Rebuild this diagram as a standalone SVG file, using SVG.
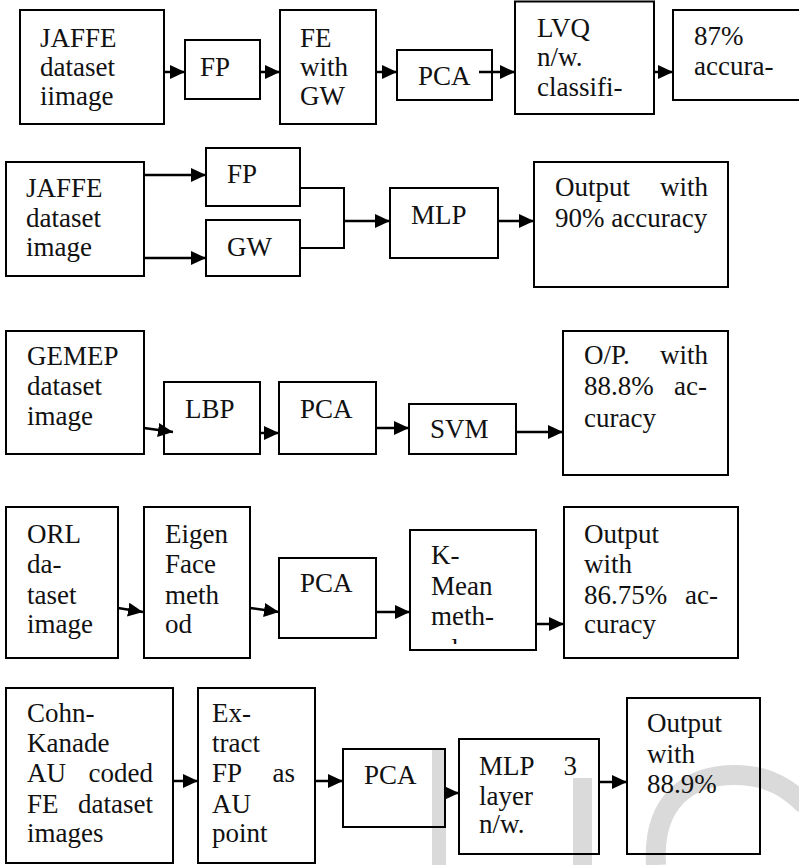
<svg xmlns="http://www.w3.org/2000/svg" width="799" height="865" viewBox="0 0 799 865" font-family="Liberation Serif, Times New Roman, Tinos, DejaVu Serif, Noto Serif, serif">
<style>
.box{fill:none;stroke:#000;stroke-width:2}
.t{font-size:27px;fill:#111}
.e{text-anchor:end}
.c{fill:none;stroke:#000;stroke-width:2.5}
.wm{fill:#dadada;stroke:none}
</style>
<defs>
<marker id="ah" markerUnits="userSpaceOnUse" markerWidth="15" markerHeight="14" refX="15" refY="7" orient="auto">
<path d="M0,0 L15,7 L0,14 z" fill="#000"/>
</marker>
<clipPath id="kclip"><rect x="410" y="530" width="126" height="114"/></clipPath>
</defs>
<rect width="799" height="865" fill="#fff"/>
<g id="watermark">
<rect class="wm" x="432" y="750" width="14" height="115"/>
<rect class="wm" x="573" y="778" width="19" height="87"/>
<path d="M656 865 C652 800 690 775 735 775 C770 775 790 790 805 805" fill="none" stroke="#dadada" stroke-width="20"/>
</g>
<g id="connectors">
<line class="c" x1="164" y1="72" x2="185" y2="72" marker-end="url(#ah)"/>
<line class="c" x1="260" y1="72" x2="280" y2="72" marker-end="url(#ah)"/>
<line class="c" x1="376" y1="72" x2="397" y2="72" marker-end="url(#ah)"/>
<line class="c" x1="479" y1="72" x2="515" y2="72" marker-end="url(#ah)"/>
<line class="c" x1="654" y1="72" x2="673" y2="72" marker-end="url(#ah)"/>
<line class="c" x1="144" y1="175" x2="206" y2="175" marker-end="url(#ah)"/>
<line class="c" x1="144" y1="258" x2="206" y2="258" marker-end="url(#ah)"/>
<polyline points="300,188 344,188 344,248 300,248" fill="none" stroke="#000" stroke-width="2"/>
<line class="c" x1="344" y1="221" x2="390" y2="221" marker-end="url(#ah)"/>
<line class="c" x1="498" y1="221" x2="534" y2="221" marker-end="url(#ah)"/>
<line class="c" x1="144" y1="428" x2="173" y2="432" marker-end="url(#ah)"/>
<line class="c" x1="260" y1="433" x2="279" y2="433" marker-end="url(#ah)"/>
<line class="c" x1="376" y1="428" x2="409" y2="428" marker-end="url(#ah)"/>
<line class="c" x1="516" y1="432" x2="563" y2="432" marker-end="url(#ah)"/>
<line class="c" x1="118" y1="608" x2="143" y2="612" marker-end="url(#ah)"/>
<line class="c" x1="250" y1="608" x2="279" y2="612" marker-end="url(#ah)"/>
<line class="c" x1="376" y1="612" x2="410" y2="612" marker-end="url(#ah)"/>
<line class="c" x1="536" y1="624" x2="564" y2="624" marker-end="url(#ah)"/>
<line class="c" x1="173" y1="781" x2="198" y2="781" marker-end="url(#ah)"/>
<line class="c" x1="315" y1="781" x2="343" y2="781" marker-end="url(#ah)"/>
<line class="c" x1="445" y1="793" x2="459" y2="793" marker-end="url(#ah)"/>
<line class="c" x1="599" y1="782" x2="627" y2="782" marker-end="url(#ah)"/>
</g>
<g id="r1-jaffe"><rect class="box" x="20" y="10" width="144" height="114"/><text class="t" x="40" y="47">JAFFE</text><text class="t" x="40" y="76">dataset</text><text class="t" x="40" y="105">iimage</text></g>
<g id="r1-fp"><rect class="box" x="185" y="40" width="75" height="59"/><text class="t" x="200" y="76">FP</text></g>
<g id="r1-fe"><rect class="box" x="280" y="10" width="96" height="114"/><text class="t" x="300" y="47">FE</text><text class="t" x="300" y="76">with</text><text class="t" x="300" y="105">GW</text></g>
<g id="r1-pca"><rect class="box" x="397" y="50" width="95" height="50"/><text class="t" x="418" y="85">PCA</text></g>
<g id="r1-lvq"><rect class="box" x="515" y="1.5" width="139" height="112.5"/><text class="t" x="537" y="37">LVQ</text><text class="t" x="537" y="66">n/w.</text><text class="t" x="537" y="96">classifi-</text></g>
<g id="r1-out"><rect class="box" x="673" y="10" width="140" height="90"/><text class="t" x="694" y="45">87%</text><text class="t" x="694" y="75">accura-</text></g>
<g id="r2-jaffe"><rect class="box" x="6" y="162" width="138" height="114"/><text class="t" x="26" y="197">JAFFE</text><text class="t" x="26" y="227">dataset</text><text class="t" x="26" y="256">image</text></g>
<g id="r2-fp"><rect class="box" x="206" y="148" width="94" height="58"/><text class="t" x="227" y="183">FP</text></g>
<g id="r2-gw"><rect class="box" x="206" y="220" width="94" height="56"/><text class="t" x="227" y="256">GW</text></g>
<g id="r2-mlp"><rect class="box" x="390" y="188" width="108" height="70"/><text class="t" x="411" y="224">MLP</text></g>
<g id="r2-out"><rect class="box" x="534" y="162" width="194" height="125"/><text class="t" x="555" y="196">Output</text><text class="t e" x="708" y="196">with</text><text class="t" x="555" y="227">90% accuracy</text></g>
<g id="r3-gemep"><rect class="box" x="6" y="331" width="138" height="123"/><text class="t" x="27" y="365">GEMEP</text><text class="t" x="27" y="395">dataset</text><text class="t" x="27" y="425">image</text></g>
<g id="r3-lbp"><rect class="box" x="164" y="382" width="96" height="72"/><text class="t" x="185" y="418">LBP</text></g>
<g id="r3-pca"><rect class="box" x="279" y="382" width="97" height="72"/><text class="t" x="300" y="418">PCA</text></g>
<g id="r3-svm"><rect class="box" x="409" y="404" width="107" height="50"/><text class="t" x="430" y="438">SVM</text></g>
<g id="r3-out"><rect class="box" x="563" y="331" width="165" height="144"/><text class="t" x="584" y="364">O/P.</text><text class="t e" x="708" y="364">with</text><text class="t" x="584" y="395">88.8%</text><text class="t e" x="707" y="395">ac-</text><text class="t" x="584" y="427">curacy</text></g>
<g id="r4-orl"><rect class="box" x="6" y="507" width="112" height="151"/><text class="t" x="27" y="543">ORL</text><text class="t" x="27" y="573">da-</text><text class="t" x="27" y="604">taset</text><text class="t" x="27" y="633">image</text></g>
<g id="r4-eigen"><rect class="box" x="144" y="507" width="106" height="151"/><text class="t" x="165" y="543">Eigen</text><text class="t" x="165" y="573">Face</text><text class="t" x="165" y="604">meth</text><text class="t" x="165" y="633">od</text></g>
<g id="r4-pca"><rect class="box" x="279" y="558" width="97" height="80"/><text class="t" x="300" y="592">PCA</text></g>
<g id="r4-kmean"><rect class="box" x="410" y="530" width="126" height="120"/><g clip-path="url(#kclip)"><text class="t" x="431" y="564">K-</text><text class="t" x="431" y="595">Mean</text><text class="t" x="431" y="625">meth-</text><text class="t" x="431" y="658">od</text></g></g>
<g id="r4-out"><rect class="box" x="564" y="507" width="174" height="151"/><text class="t" x="584" y="543">Output</text><text class="t" x="584" y="573">with</text><text class="t" x="584" y="604">86.75%</text><text class="t e" x="718" y="604">ac-</text><text class="t" x="584" y="633">curacy</text></g>
<g id="r5-cohn"><rect class="box" x="6" y="688" width="167" height="175"/><text class="t" x="27" y="722">Cohn-</text><text class="t" x="27" y="752">Kanade</text><text class="t" x="27" y="782">AU</text><text class="t e" x="153" y="782">coded</text><text class="t" x="27" y="813">FE</text><text class="t e" x="153" y="813">dataset</text><text class="t" x="27" y="842">images</text></g>
<g id="r5-extract"><rect class="box" x="198" y="688" width="117" height="175"/><text class="t" x="212" y="722">Ex-</text><text class="t" x="212" y="752">tract</text><text class="t" x="212" y="782">FP</text><text class="t e" x="295" y="782">as</text><text class="t" x="212" y="813">AU</text><text class="t" x="212" y="842">point</text></g>
<g id="r5-pca"><rect class="box" x="343" y="749" width="102" height="78"/><text class="t" x="364" y="784">PCA</text></g>
<g id="r5-mlp"><rect class="box" x="459" y="739" width="140" height="115"/><text class="t" x="479" y="775">MLP</text><text class="t e" x="577" y="775">3</text><text class="t" x="479" y="805">layer</text><text class="t" x="479" y="833">n/w.</text></g>
<g id="r5-out"><rect class="box" x="627" y="698" width="133" height="156"/><text class="t" x="647" y="732">Output</text><text class="t" x="647" y="763">with</text><text class="t" x="647" y="793">88.9%</text></g>
</svg>
